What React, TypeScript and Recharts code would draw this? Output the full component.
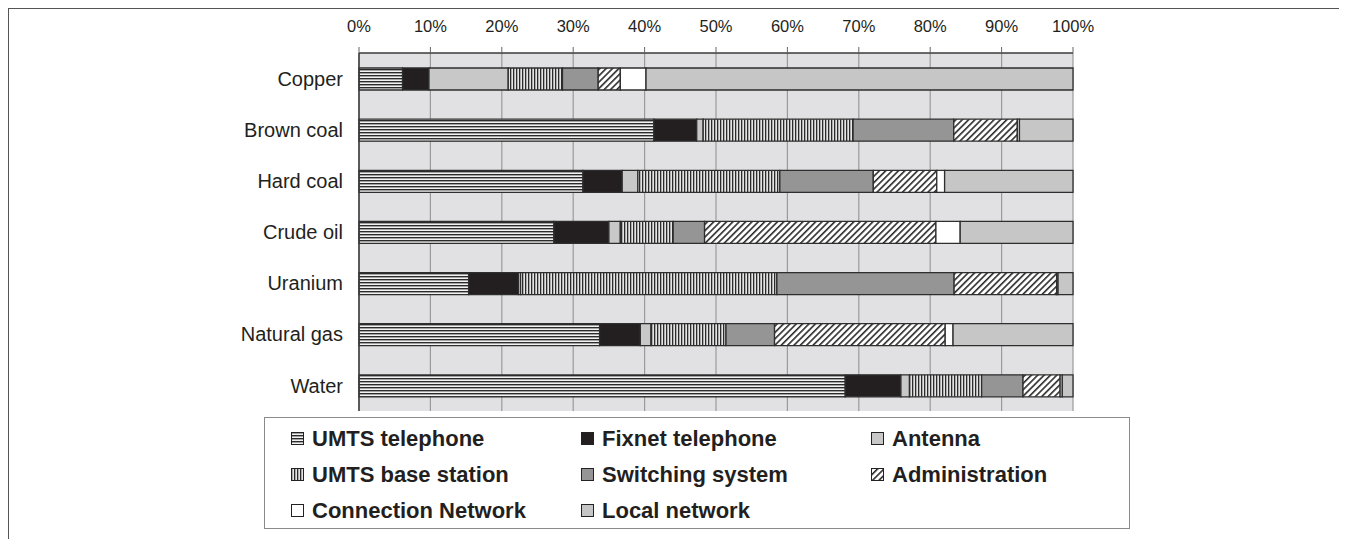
import React from 'react';
import { BarChart, Bar, XAxis, YAxis, CartesianGrid, Legend } from 'recharts';

const categories = ['Copper', 'Brown coal', 'Hard coal', 'Crude oil', 'Uranium', 'Natural gas', 'Water'];

// shares in percent
const umtsTelephone = [6.1, 41.3, 31.4, 27.3, 15.4, 33.7, 68.1];
const fixnetTelephone = [3.7, 6.0, 5.5, 7.7, 7.0, 5.7, 7.8];
const antenna = [11.1, 0.9, 2.2, 1.6, 0.3, 1.5, 1.2];
const umtsBaseStation = [7.6, 21.0, 19.9, 7.4, 36.0, 10.5, 10.1];
const switchingSystem = [5.0, 14.1, 13.1, 4.4, 24.9, 6.8, 5.8];
const administration = [3.1, 8.9, 8.9, 32.4, 14.4, 23.9, 5.2];
const connectionNetwork = [3.6, 0.3, 1.1, 3.4, 0.2, 1.1, 0.3];
const localNetwork = [59.8, 7.5, 18.0, 15.8, 2.1, 16.8, 1.5];

const percentTicks = [0, 0.1, 0.2, 0.3, 0.4, 0.5, 0.6, 0.7, 0.8, 0.9, 1];
const bandEdges = [0, 1, 2, 3, 4, 5, 6, 7];

const series = [
  { key: 'umtsTel', name: 'UMTS telephone', values: umtsTelephone, fill: 'url(#pUmtsTel)' },
  { key: 'fixnet', name: 'Fixnet telephone', values: fixnetTelephone, fill: '#231f20' },
  { key: 'antenna', name: 'Antenna', values: antenna, fill: '#c8c8c8' },
  { key: 'umtsBase', name: 'UMTS base station', values: umtsBaseStation, fill: 'url(#pUmtsBase)' },
  { key: 'switching', name: 'Switching system', values: switchingSystem, fill: '#959595' },
  { key: 'admin', name: 'Administration', values: administration, fill: 'url(#pAdmin)' },
  { key: 'connection', name: 'Connection Network', values: connectionNetwork, fill: '#ffffff' },
  { key: 'local', name: 'Local network', values: localNetwork, fill: '#c6c6c6' },
];

const data = categories.map((name, i) => {
  const row: Record<string, string | number> = { name };
  series.forEach((s) => {
    row[s.key] = s.values[i];
  });
  return row;
});

const FONT = "Arial, 'Liberation Sans', Helvetica, sans-serif";
const INK = '#231f20';

const LegendBox = () => (
  <div
    style={{
      boxSizing: 'border-box',
      width: 866,
      height: 112,
      border: '1px solid #8a8a8a',
      background: '#fff',
      padding: '3px 0 0 26px',
      display: 'grid',
      gridTemplateColumns: '290px 290px 280px',
      gridAutoRows: '36px',
      alignItems: 'center',
      fontFamily: FONT,
      fontWeight: 'bold',
      fontSize: 22,
      color: INK,
    }}
  >
    {series.map((s) => (
      <div key={s.key} style={{ display: 'flex', alignItems: 'center', whiteSpace: 'nowrap' }}>
        <svg width={14} height={14} style={{ marginRight: 7, flex: 'none' }}>
          <rect x={0.5} y={0.5} width={12} height={12} fill={s.fill} stroke="#222" strokeWidth={1} />
        </svg>
        <span>{s.name}</span>
      </div>
    ))}
  </div>
);

export default function App() {
  return (
    <div
      style={{
        width: 1336,
        height: 538,
        marginBottom: -8,
        borderTop: '1px solid #555',
        borderLeft: '1px solid #555',
        borderRight: '1px solid #555',
        background: '#fff',
      }}
    >
      <BarChart
        width={1336}
        height={538}
        data={data}
        layout="vertical"
        stackOffset="expand"
        barSize={22}
        margin={{ top: 14, right: 272, bottom: 136, left: 230 }}
      >
        <defs>
          <pattern id="pUmtsTel" patternUnits="userSpaceOnUse" width={6} height={3}>
            <rect width={6} height={3} fill="#f2f2f2" />
            <rect width={6} height={1.4} fill="#2b2b2b" />
          </pattern>
          <pattern id="pUmtsBase" patternUnits="userSpaceOnUse" width={3} height={6}>
            <rect width={3} height={6} fill="#e4e4e4" />
            <rect width={1.3} height={6} fill="#2b2b2b" />
          </pattern>
          <pattern
            id="pAdmin"
            patternUnits="userSpaceOnUse"
            width={4.5}
            height={4.5}
            patternTransform="rotate(45)"
          >
            <rect width={4.5} height={4.5} fill="#ffffff" />
            <rect width={1.6} height={4.5} fill="#2b2b2b" />
          </pattern>
        </defs>
        <CartesianGrid horizontal={false} fill="#e1e1e3" stroke="#9a9a9a" strokeWidth={1.2} />
        <XAxis
          type="number"
          orientation="top"
          domain={[0, 1]}
          ticks={percentTicks}
          tickFormatter={(v: number) => `${Math.round(v * 100)}%`}
          height={30}
          tickSize={6}
          tickMargin={15}
          tick={{ fontSize: 16.5, fill: INK, fontFamily: FONT }}
          tickLine={{ stroke: '#666' }}
          axisLine={{ stroke: '#3a3a3a', strokeWidth: 1.5 }}
          interval={0}
        />
        <XAxis
          xAxisId="frame"
          type="number"
          orientation="bottom"
          domain={[0, 1]}
          allowDataOverflow
          height={0}
          tickLine={false}
          tickFormatter={() => ''}
          axisLine={{ stroke: '#3a3a3a', strokeWidth: 1.5 }}
        />
        <YAxis
          yAxisId="edges"
          type="number"
          orientation="left"
          domain={[0, 7]}
          ticks={bandEdges}
          allowDataOverflow
          width={0}
          tickSize={7}
          tickFormatter={() => ''}
          tickLine={{ stroke: '#444', strokeWidth: 1.2 }}
          axisLine={false}
          interval={0}
        />
        <YAxis
          type="category"
          dataKey="name"
          width={120}
          tickSize={7}
          tickMargin={9}
          tickLine={false}
          tick={{ fontSize: 20, fill: INK, fontFamily: FONT }}
          axisLine={{ stroke: '#3a3a3a', strokeWidth: 1.5 }}
          interval={0}
        />
        <YAxis
          yAxisId="frameR"
          type="number"
          orientation="right"
          domain={[0, 1]}
          allowDataOverflow
          width={0}
          tickLine={false}
          tickFormatter={() => ''}
          axisLine={{ stroke: '#3a3a3a', strokeWidth: 1.5 }}
        />
        <Legend
          layout="horizontal"
          verticalAlign="middle"
          align="center"
          content={() => <LegendBox />}
          wrapperStyle={{ left: 255, top: 408, width: 866, height: 112 }}
        />
        {series.map((s) => (
          <Bar
            key={s.key}
            dataKey={s.key}
            name={s.name}
            stackId="a"
            fill={s.fill}
            stroke="#2e2e2e"
            strokeWidth={1.3}
            isAnimationActive={false}
          />
        ))}
      </BarChart>
    </div>
  );
}
